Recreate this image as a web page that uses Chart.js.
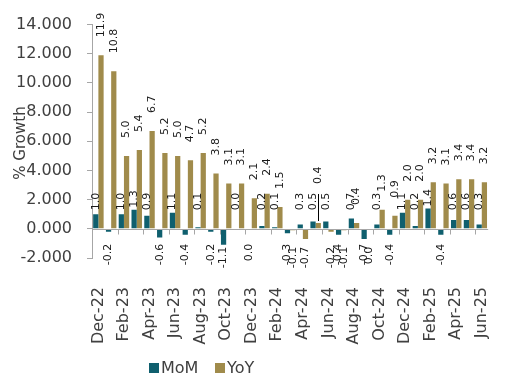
<!DOCTYPE html>
<html>
<head>
<meta charset="utf-8">
<title>Monthly and annual growth</title>
<script src="https://cdn.jsdelivr.net/npm/chart.js@4/dist/chart.umd.min.js"></script>
<style>
  html, body { margin: 0; padding: 0; background: #ffffff; }
  #wrap { width: 522px; height: 376px; }
</style>
</head>
<body>
<div id="wrap"><canvas id="chart" width="522" height="376"></canvas></div>
<script>
// Months on the category axis
const months = [
  'Dec-22', 'Jan-23', 'Feb-23', 'Mar-23', 'Apr-23', 'May-23', 'Jun-23', 'Jul-23',
  'Aug-23', 'Sep-23', 'Oct-23', 'Nov-23', 'Dec-23', 'Jan-24', 'Feb-24', 'Mar-24',
  'Apr-24', 'May-24', 'Jun-24', 'Jul-24', 'Aug-24', 'Sep-24', 'Oct-24', 'Nov-24',
  'Dec-24', 'Jan-25', 'Feb-25', 'Mar-25', 'Apr-25', 'May-25', 'Jun-25'
];

// Month-on-month growth, %
const momValues = [
  1.0, -0.2, 1.0, 1.3, 0.9, -0.6, 1.1, -0.4,
  0.1, -0.2, -1.1, 0.0, -0, 0.2, 0.1, -0.3,
  0.3, 0.5, 0.5, -0.4, 0.7, -0.7, 0.3, -0.4,
  1.1, 0.2, 1.4, -0.4, 0.6, 0.6, 0.3
];

// Year-on-year growth, %
const yoyValues = [
  11.9, 10.8, 5.0, 5.4, 6.7, 5.2, 5.0, 4.7,
  5.2, 3.8, 3.1, 3.1, 2.1, 2.4, 1.5, -0.1,
  -0.7, 0.4, -0.2, -0.1, 0.4, -0, 1.3, 0.9,
  2.0, 2.0, 3.2, 3.1, 3.4, 3.4, 3.2
];

// Labelled months (every second one)
const xTickLabels = [
  'Dec-22', 'Feb-23', 'Apr-23', 'Jun-23', 'Aug-23', 'Oct-23', 'Dec-23', 'Feb-24',
  'Apr-24', 'Jun-24', 'Aug-24', 'Oct-24', 'Dec-24', 'Feb-25', 'Apr-25', 'Jun-25'
];

// Value axis ticks
const yTickValues = [-2, 0, 2, 4, 6, 8, 10, 12, 14];

const FONT = "'DejaVu Sans', 'Verdana', sans-serif";
const MOM_COLOR = '#0f5f6e';
const YOY_COLOR = '#a08b4b';
const AXIS_COLOR = '#a6a6a6';
const TEXT_COLOR = '#404040';
const LABEL_COLOR = '#1a1a1a';

Chart.defaults.font.family = FONT;

const isNegative = v => v < 0 || Object.is(v, -0);

// Zero line with a tick mark every second month
const zeroAxis = {
  id: 'zeroAxis',
  afterDatasetsDraw(chart) {
    const { ctx, chartArea, scales: { x, y } } = chart;
    const y0 = Math.round(y.getPixelForValue(0)) + 0.5;
    ctx.save();
    ctx.strokeStyle = AXIS_COLOR;
    ctx.lineWidth = 1;
    ctx.beginPath();
    ctx.moveTo(chartArea.left, y0);
    ctx.lineTo(chartArea.right, y0);
    for (let i = 2; i < months.length; i += 2) {
      const bx = Math.round(x.getPixelForValue(i - 0.5)) + 0.5;
      ctx.moveTo(bx, y0);
      ctx.lineTo(bx, y0 + 5);
    }
    ctx.stroke();
    ctx.restore();
  }
};

// Rotated value labels at the end of each bar
const barValueLabels = {
  id: 'barValueLabels',
  afterDatasetsDraw(chart) {
    const { ctx, scales: { y } } = chart;
    const zero = y.getPixelForValue(0);
    // per series: gap above positive bars, lowest allowed baseline, offset below negatives
    const rules = [
      { posGap: 2, posFloor: zero - 18.5, negTop: zero + 15 },
      { posGap: 18, posFloor: Infinity, negTop: zero + 18 }
    ];
    // labels lifted clear of a neighbour and tied back with a leader line
    const lifted = { '1:17': 39 };
    ctx.save();
    ctx.font = '11px ' + FONT;
    ctx.fillStyle = LABEL_COLOR;
    ctx.textBaseline = 'middle';
    chart.data.datasets.forEach((ds, di) => {
      const meta = chart.getDatasetMeta(di);
      const rule = rules[di];
      meta.data.forEach((bar, i) => {
        const v = ds.data[i];
        const text = Math.abs(v).toFixed(1) === '0.0' ? '0.0' : v.toFixed(1);
        ctx.save();
        if (isNegative(v)) {
          const top = Math.max(bar.y + 2, rule.negTop);
          ctx.translate(bar.x, top);
          ctx.rotate(-Math.PI / 2);
          ctx.textAlign = 'right';
        } else {
          let bottom = Math.min(bar.y - rule.posGap, rule.posFloor);
          const lift = lifted[di + ':' + i];
          if (lift) {
            bottom = bar.y - lift;
            ctx.strokeStyle = '#000000';
            ctx.lineWidth = 1;
            ctx.beginPath();
            ctx.moveTo(Math.round(bar.x) + 0.5, bar.y - 2);
            ctx.lineTo(Math.round(bar.x) + 0.5, bar.y - 29);
            ctx.stroke();
          }
          ctx.translate(bar.x, bottom);
          ctx.rotate(-Math.PI / 2);
          ctx.textAlign = 'left';
        }
        ctx.fillText(text, 0, 0);
        ctx.restore();
      });
    });
    ctx.restore();
  }
};

// Value axis title, set over the tick label column
const axisTitle = {
  id: 'axisTitle',
  afterDraw(chart) {
    const { ctx } = chart;
    ctx.save();
    ctx.translate(21, 143);
    ctx.rotate(-Math.PI / 2);
    ctx.font = '15px ' + FONT;
    ctx.fillStyle = TEXT_COLOR;
    ctx.textAlign = 'center';
    ctx.textBaseline = 'middle';
    ctx.fillText('% Growth', 0, 0);
    ctx.restore();
  }
};

// Series key under the left half of the plot: square swatch, then the name
const seriesKey = {
  id: 'seriesKey',
  afterDraw(chart) {
    const { ctx } = chart;
    const starts = [149, 215];
    const cy = 368;
    ctx.save();
    ctx.font = '16px ' + FONT;
    ctx.textBaseline = 'middle';
    ctx.textAlign = 'left';
    chart.data.datasets.forEach((ds, i) => {
      const x0 = starts[i];
      ctx.fillStyle = ds.backgroundColor;
      ctx.fillRect(x0, cy - 5, 10, 10);
      ctx.fillStyle = TEXT_COLOR;
      ctx.fillText(ds.label, x0 + 12, cy + 0.5);
    });
    ctx.restore();
  }
};

new Chart(document.getElementById('chart'), {
  type: 'bar',
  data: {
    labels: months,
    datasets: [
      {
        label: 'MoM',
        data: momValues,
        backgroundColor: MOM_COLOR,
        categoryPercentage: 0.82,
        barPercentage: 1.0
      },
      {
        label: 'YoY',
        data: yoyValues,
        backgroundColor: YOY_COLOR,
        categoryPercentage: 0.82,
        barPercentage: 1.0
      }
    ]
  },
  options: {
    responsive: false,
    animation: false,
    devicePixelRatio: 1,
    layout: { padding: { top: 20, left: 0, right: 1, bottom: 28 } },
    plugins: {
      legend: { display: false },
      tooltip: { enabled: false }
    },
    scales: {
      x: {
        grid: { display: false },
        border: { display: false },
        ticks: {
          autoSkip: false,
          minRotation: 90,
          maxRotation: 90,
          padding: 21,
          color: TEXT_COLOR,
          font: { size: 16 },
          callback(value, index) {
            const m = months[index];
            return xTickLabels.includes(m) ? m : '';
          }
        },
        afterFit(scale) { scale.height = 90; }
      },
      y: {
        min: yTickValues[0],
        max: yTickValues[yTickValues.length - 1],
        grid: {
          display: true,
          drawOnChartArea: false,
          drawTicks: true,
          tickLength: 5,
          color: AXIS_COLOR
        },
        border: { display: true, color: AXIS_COLOR },
        ticks: {
          padding: 15,
          color: TEXT_COLOR,
          font: { size: 16 },
          callback: v => Number(v).toFixed(3)
        },
        afterBuildTicks(scale) {
          scale.ticks = yTickValues.map(v => ({ value: v }));
        },
        afterFit(scale) { scale.width = 92; }
      }
    }
  },
  plugins: [zeroAxis, barValueLabels, axisTitle, seriesKey]
});
</script>
</body>
</html>
